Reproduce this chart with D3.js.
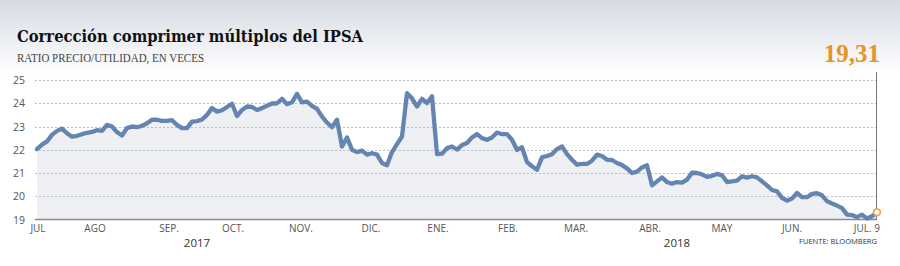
<!doctype html>
<html lang="es">
  <head>
    <meta charset="UTF-8" />
    <title>Corrección comprimer múltiplos del IPSA</title>
    <style>
      body { margin: 0; background: #fff; }
      svg { display: block; }
      .grid line { stroke: #b9bcc2; stroke-dasharray: 2 2; }
      .ylab { font-family: "Open Sans", sans-serif; font-size: 10.5px; fill: #555; }
      .mlab { font-family: "Open Sans", sans-serif; font-size: 10px; fill: #555; }
    </style>
  </head>
  <body>
    <div id="chart"></div>
    <script src="https://d3js.org/d3.v7.min.js"></script>
    <script>
      // P/U ratio of the IPSA, one reading per ~1.5 trading days, Jul 2017 -> Jul 9 2018
      const values = [
        22.03, 22.22, 22.36, 22.64, 22.81, 22.91, 22.71, 22.56, 22.6, 22.67,
        22.73, 22.77, 22.84, 22.81, 23.07, 23.0, 22.76, 22.61, 22.93, 23.0,
        22.97, 23.03, 23.14, 23.29, 23.29, 23.24, 23.24, 23.27, 23.07, 22.93,
        22.93, 23.21, 23.23, 23.3, 23.5, 23.79, 23.64, 23.7, 23.84, 23.98,
        23.45, 23.71, 23.86, 23.84, 23.71, 23.79, 23.89, 23.99, 24.0, 24.19,
        23.96, 24.04, 24.4, 24.04, 24.07, 23.89, 23.76, 23.43, 23.17, 22.97,
        23.29, 22.14, 22.53, 22.0, 21.9, 21.96, 21.79, 21.85, 21.79, 21.43,
        21.33, 21.9, 22.24, 22.57, 24.43, 24.21, 23.86, 24.19, 24.01, 24.3,
        21.81, 21.83, 22.07, 22.14, 22.01, 22.2, 22.29, 22.53, 22.67, 22.5,
        22.43, 22.53, 22.74, 22.67, 22.67, 22.43, 21.99, 22.11, 21.47, 21.29,
        21.14, 21.67, 21.73, 21.81, 22.03, 22.14, 21.81, 21.57, 21.36, 21.39,
        21.39, 21.53, 21.79, 21.73, 21.57, 21.56, 21.43, 21.34, 21.2, 21.0,
        21.06, 21.24, 21.33, 20.47, 20.64, 20.81, 20.61, 20.54, 20.61, 20.59,
        20.71, 21.01, 21.0, 20.94, 20.83, 20.88, 20.96, 20.9, 20.61, 20.64,
        20.67, 20.86, 20.8, 20.86, 20.81, 20.64, 20.47, 20.27, 20.21, 19.93,
        19.81, 19.9, 20.14, 19.96, 19.96, 20.1, 20.13, 20.04, 19.79, 19.69,
        19.6, 19.49, 19.21, 19.19, 19.1, 19.21, 19.04, 19.14, 19.31
      ];

      const yTicks = [19, 20, 21, 22, 23, 24, 25];
      const months = ['JUL', 'AGO', 'SEP.', 'OCT.', 'NOV.', 'DIC.', 'ENE.', 'FEB.', 'MAR.', 'ABR.', 'MAY', 'JUN.', 'JUL. 9'];
      const monthIdx = [0.2, 11.6, 26.4, 39.2, 52.8, 66.8, 80.2, 94.2, 107.8, 122.6, 137, 151, 168];
      const years = ['2017', '2018'];
      const yearIdx = [32, 128];
      const lastLabel = '19,31';

      const width = 900;
      const height = 266;

      const svg = d3.select('#chart').append('svg').attr('width', width).attr('height', height);

      // soft grey band at the top
      const defs = svg.append('defs');
      const grad = defs.append('linearGradient').attr('id', 'bg').attr('x1', 0).attr('x2', 0).attr('y1', 0).attr('y2', 1);
      grad.append('stop').attr('offset', 0).attr('stop-color', '#d6dbe3');
      grad.append('stop').attr('offset', 1).attr('stop-color', '#ffffff');
      svg.append('rect').attr('width', width).attr('height', 75).attr('fill', 'url(#bg)');

      const x = d3.scaleLinear().domain([0, values.length - 1]).range([37, 877]);
      const y = d3.scaleLinear().domain([19, 25]).range([219.5, 80]);

      // area under the line
      svg.append('path')
        .datum(values)
        .attr('fill', '#eff0f3')
        .attr('d', d3.area().x((d, i) => x(i)).y0(y(19)).y1((d) => y(d)));

      // dotted gridlines
      svg.append('g').attr('class', 'grid')
        .selectAll('line')
        .data(yTicks.slice(1))
        .join('line')
        .attr('x1', 35).attr('x2', 876)
        .attr('y1', (d) => Math.round(y(d)) + 0.5)
        .attr('y2', (d) => Math.round(y(d)) + 0.5);

      svg.selectAll('.ylab')
        .data(yTicks)
        .join('text')
        .attr('class', 'ylab')
        .attr('x', 25)
        .attr('y', (d) => y(d) + 4)
        .attr('text-anchor', 'end')
        .text((d) => d);

      // base axis
      svg.append('line')
        .attr('x1', 35).attr('x2', 877)
        .attr('y1', y(19)).attr('y2', y(19))
        .attr('stroke', '#8a8a8a').attr('stroke-width', 1.5);

      // right-hand marker line
      svg.append('line')
        .attr('x1', x(values.length - 1) - 0.5).attr('x2', x(values.length - 1) - 0.5)
        .attr('y1', 72).attr('y2', y(19))
        .attr('stroke', '#777').attr('stroke-width', 1);

      svg.append('path')
        .datum(values)
        .attr('fill', 'none')
        .attr('stroke', '#6485b1')
        .attr('stroke-width', 4.3)
        .attr('stroke-linejoin', 'round')
        .attr('stroke-linecap', 'round')
        .attr('d', d3.line().x((d, i) => x(i)).y((d) => y(d)));

      const n = values.length - 1;
      svg.append('circle')
        .attr('cx', x(n)).attr('cy', y(values[n]))
        .attr('r', 3.3)
        .attr('fill', '#fff').attr('stroke', '#eea23a').attr('stroke-width', 1.6);

      // month labels
      svg.selectAll('.mlab')
        .data(months)
        .join('text')
        .attr('class', 'mlab')
        .attr('x', (d, i) => (i === months.length - 1 ? x(monthIdx[i]) + 3 : x(monthIdx[i])))
        .attr('y', 232)
        .attr('text-anchor', (d, i) => (i === months.length - 1 ? 'end' : 'middle'))
        .text((d) => d);

      svg.selectAll('.yrlab')
        .data(years)
        .join('text')
        .attr('x', (d, i) => x(yearIdx[i]))
        .attr('y', 247)
        .attr('text-anchor', 'middle')
        .style('font-family', '"Open Sans", sans-serif')
        .style('font-size', '11.5px')
        .style('fill', '#333')
        .text((d) => d);

      // titles
      svg.append('text')
        .attr('x', 17).attr('y', 42)
        .style('font-family', '"DejaVu Serif", serif')
        .style('font-weight', 'bold')
        .style('font-size', '17px')
        .style('fill', '#111')
        .attr('textLength', 346)
        .attr('lengthAdjust', 'spacingAndGlyphs')
        .text('Corrección comprimer múltiplos del IPSA');

      svg.append('text')
        .attr('x', 17).attr('y', 62)
        .style('font-family', '"Liberation Serif", serif')
        .style('font-size', '11.5px')
        .style('fill', '#444')
        .attr('textLength', 187)
        .attr('lengthAdjust', 'spacingAndGlyphs')
        .text('RATIO PRECIO/UTILIDAD, EN VECES');

      svg.append('text')
        .attr('x', 880).attr('y', 62)
        .attr('text-anchor', 'end')
        .style('font-family', '"Liberation Serif", serif')
        .style('font-weight', 'bold')
        .style('font-size', '25px')
        .style('fill', '#e8922a')
        .text(lastLabel);

      svg.append('text')
        .attr('x', 877).attr('y', 244)
        .attr('text-anchor', 'end')
        .style('font-family', '"Open Sans", sans-serif')
        .style('font-size', '8px')
        .style('fill', '#333')
        .attr('textLength', 78)
        .attr('lengthAdjust', 'spacingAndGlyphs')
        .text('FUENTE: BLOOMBERG');
    </script>
  </body>
</html>
